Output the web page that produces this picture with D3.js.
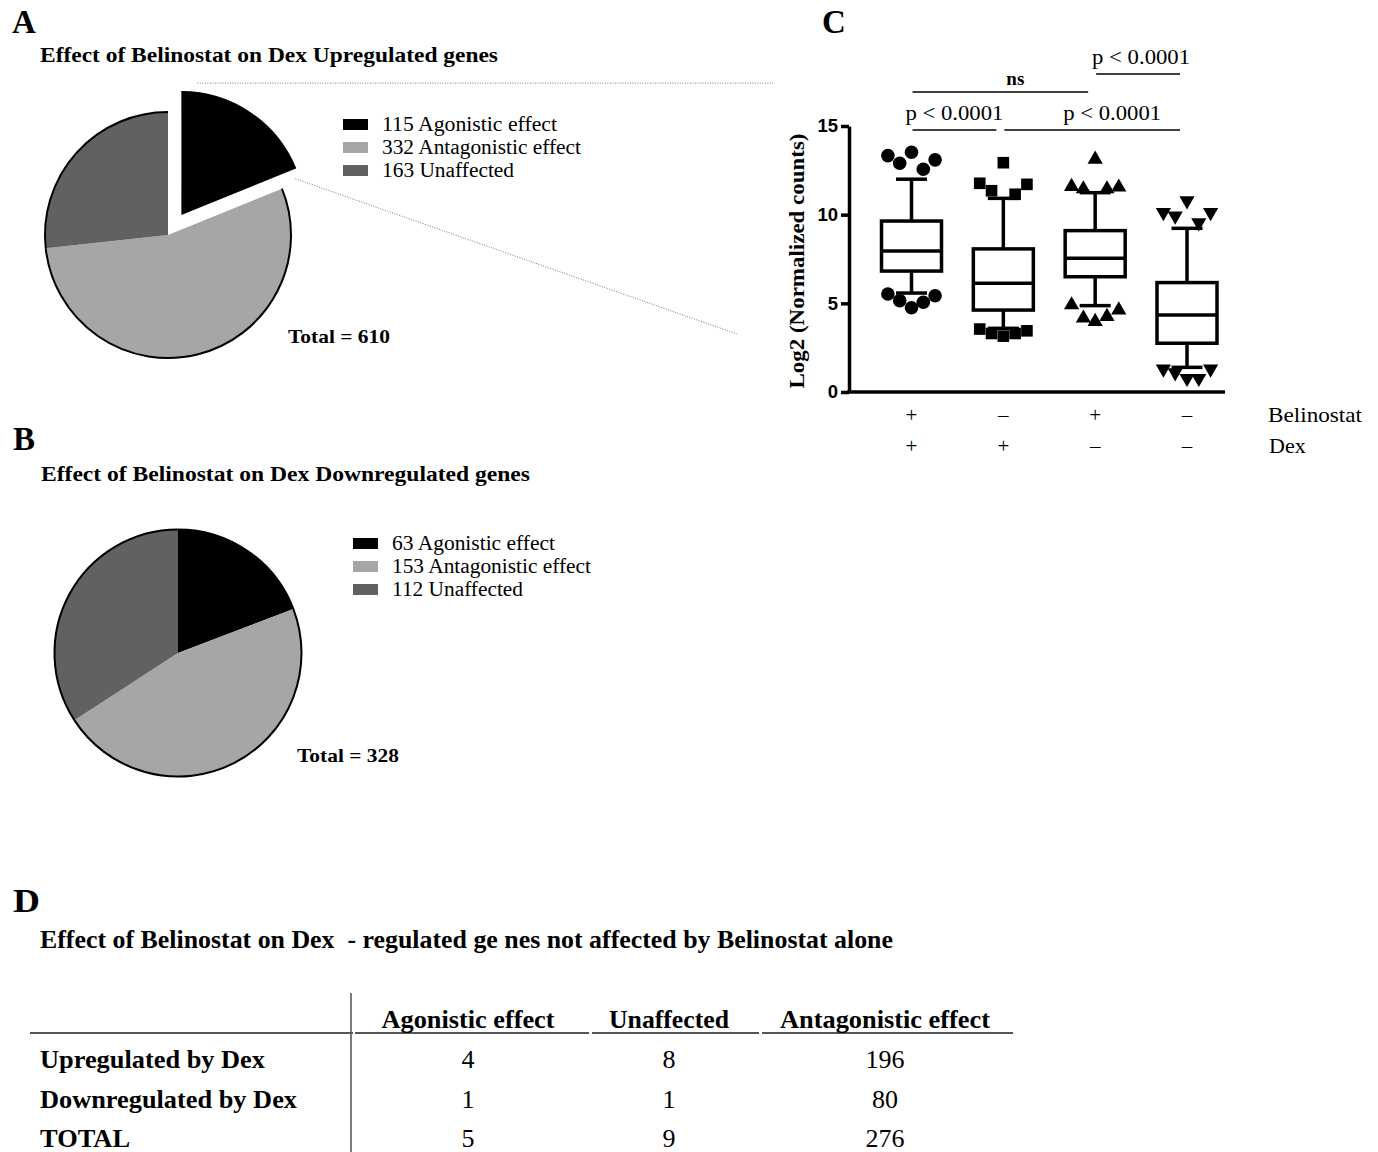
<!DOCTYPE html>
<html><head><meta charset="utf-8">
<script src="https://cdn.jsdelivr.net/npm/d3@7"></script>
<style>body{margin:0;background:#fff} svg{display:block}</style>
</head><body>
<svg id="fig" width="1378" height="1152"></svg>
<script>
// ---------------- DATA ----------------
const pieCategories = ["Agonistic effect", "Antagonistic effect", "Unaffected"];
const pieColors = ["#000000", "#a6a6a9", "#616161"];
const upCounts = [115, 332, 163];
const downCounts = [63, 153, 112];
const upTotal = 610;
const downTotal = 328;

const boxGroups = ["BD", "D", "B", "none"];
const belinostatSigns = ["+", "\u2013", "+", "\u2013"];
const dexSigns = ["+", "+", "\u2013", "\u2013"];
const boxQ1 = [6.82, 4.62, 6.50, 2.75];
const boxMedian = [7.95, 6.13, 7.54, 4.34];
const boxQ3 = [9.64, 8.07, 9.10, 6.17];
const whiskerLow = [5.58, 3.59, 4.87, 1.39];
const whiskerHigh = [12.0, 10.92, 11.24, 9.23];
const outliersHigh = [
  [13.33, 12.90, 13.52, 12.56, 13.09],
  [11.77, 11.35, 12.93, 11.15, 11.71],
  [11.58, 11.45, 13.12, 11.45, 11.55],
  [10.13, 9.93, 10.79, 9.55, 10.13]
];
const outliersLow = [
  [5.53, 5.15, 4.75, 5.06, 5.43],
  [3.55, 3.30, 3.15, 3.30, 3.45],
  [4.91, 4.16, 3.97, 4.25, 4.62],
  [1.30, 1.09, 0.77, 0.77, 1.30]
];
const yTicks = [0, 5, 10, 15];
const comparisons = [
  {a: "BD", b: "D", label: "p < 0.0001"},
  {a: "D", b: "none", label: "p < 0.0001"},
  {a: "BD", b: "B", label: "ns"},
  {a: "B", b: "none", label: "p < 0.0001"}
];

const tableCols = ["Agonistic effect", "Unaffected", "Antagonistic effect"];
const tableRows = ["Upregulated by Dex", "Downregulated by Dex", "TOTAL"];
const agonisticVals = [4, 1, 5];
const unaffectedVals = [8, 1, 9];
const antagonisticVals = [196, 80, 276];

// ---------------- DRAW ----------------
const svg = d3.select("#fig");
const serif = "'Liberation Serif','Times New Roman',serif";
const sans = "'Liberation Sans',Arial,sans-serif";

function txt(t, x, y, o = {}) {
  const e = svg.append("text").attr("x", x).attr("y", y).text(t)
    .attr("font-family", o.family || serif)
    .attr("font-size", o.size || 20)
    .attr("font-weight", o.weight || "normal")
    .attr("text-anchor", o.anchor || "start")
    .attr("fill", o.fill || "#000");
  if (o.len) e.attr("textLength", o.len).attr("lengthAdjust", "spacingAndGlyphs");
  return e;
}

// panel letters
txt("A", 12, 33, {size: 33, weight: "bold"});
txt("B", 13, 450, {size: 33, weight: "bold"});
txt("C", 822, 33, {size: 33, weight: "bold"});
txt("D", 13, 912, {size: 33, weight: "bold", len: 27});

// ---------- pies ----------
function drawPie(counts, cx, cy, r, explodeIdx, explode) {
  const pie = d3.pie().sort(null).value(d => d);
  const arcs = pie(counts);
  const arc = d3.arc().innerRadius(0).outerRadius(r);
  const rim = d3.arc().innerRadius(r).outerRadius(r);
  const res = [];
  arcs.forEach((a, i) => {
    const mid = (a.startAngle + a.endAngle) / 2;
    const off = i === explodeIdx ? explode : 0;
    const dx = Math.sin(mid) * off, dy = -Math.cos(mid) * off;
    const g = svg.append("g").attr("transform", `translate(${cx + dx},${cy + dy})`);
    g.append("path").attr("d", arc(a)).attr("fill", pieColors[i]);
    g.append("path").attr("d", rim(a)).attr("fill", "none").attr("stroke", "#000").attr("stroke-width", 2);
    res.push({a, cx: cx + dx, cy: cy + dy});
  });
  return res;
}
function drawLegend(counts, x, y, lens) {
  counts.forEach((c, i) => {
    svg.append("rect").attr("x", x).attr("y", y + i * 23).attr("width", 25).attr("height", 11).attr("fill", pieColors[i]);
    txt(c + " " + pieCategories[i], x + 39, y + 12 + i * 23, {size: 20, len: lens[i]});
  });
}

// Panel A
txt("Effect of Belinostat on Dex Upregulated genes", 40, 62, {size: 21, weight: "bold", len: 458});
const pa = drawPie(upCounts, 168, 235, 123, 0, 24);
drawLegend(upCounts, 343, 119, [175, 199, 132]);
txt("Total = " + upTotal, 288, 343, {size: 19, weight: "bold", len: 102});

// connector dotted lines from exploded slice to panel C
const ex = pa[0];
const topPt = [ex.cx + 16, ex.cy - 123 - 9];
const endAng = ex.a.endAngle;
const sidePt = [ex.cx + Math.sin(endAng) * 123, ex.cy - Math.cos(endAng) * 123 + 10];
svg.append("line").attr("x1", topPt[0]).attr("y1", topPt[1]).attr("x2", 773).attr("y2", topPt[1])
  .attr("stroke", "#777").attr("stroke-width", 1).attr("stroke-dasharray", "1,1.5");
svg.append("line").attr("x1", sidePt[0]).attr("y1", sidePt[1]).attr("x2", 737).attr("y2", 334)
  .attr("stroke", "#777").attr("stroke-width", 1).attr("stroke-dasharray", "1,1.5");

// Panel B
txt("Effect of Belinostat on Dex Downregulated genes", 41, 481, {size: 21, weight: "bold", len: 489});
drawPie(downCounts, 178, 653, 123.5, -1, 0);
drawLegend(downCounts, 353, 538, [163, 199, 131]);
txt("Total = " + downTotal, 297, 762, {size: 19, weight: "bold", len: 102});

// ---------- Panel C : box plot ----------
const y = d3.scaleLinear().domain([0, 15]).range([392, 126]);
const x = d3.scalePoint().domain(boxGroups).range([911.5, 1187]);
const axisX0 = 849;
const boxHalf = 30, capHalf = 15.5, lw = 3.5;

const yAxis = svg.append("g").attr("transform", `translate(${axisX0},0)`)
  .call(d3.axisLeft(y).tickValues(yTicks).tickSize(8).tickSizeOuter(0).tickPadding(3).tickFormat(d3.format("d")));
yAxis.select(".domain").attr("stroke-width", lw).attr("stroke", "#000");
yAxis.selectAll(".tick line").attr("stroke-width", lw).attr("stroke", "#000");
yAxis.selectAll(".tick text").attr("font-family", sans).attr("font-weight", "bold").attr("font-size", 18.5).attr("fill", "#000");

svg.append("line").attr("x1", axisX0 - lw / 2).attr("x2", x(boxGroups[3]) + 38)
  .attr("y1", y(0)).attr("y2", y(0)).attr("stroke", "#000").attr("stroke-width", lw);

svg.append("text").attr("transform", `translate(804,${(y(0) + y(15)) / 2 + 2}) rotate(-90)`)
  .attr("text-anchor", "middle").attr("font-family", serif).attr("font-weight", "bold")
  .attr("font-size", 20).attr("textLength", 255).attr("lengthAdjust", "spacingAndGlyphs")
  .text("Log2 (Normalized counts)");

const symbols = [
  {type: d3.symbolCircle, size: 145, rot: 0},
  {type: d3.symbolSquare, size: 135, rot: 0},
  {type: d3.symbolTriangle, size: 100, rot: 0},
  {type: d3.symbolTriangle, size: 100, rot: 180}
];

boxGroups.forEach((g, i) => {
  const cx = x(g);
  const G = svg.append("g");
  // whiskers
  G.append("line").attr("x1", cx).attr("x2", cx).attr("y1", y(whiskerHigh[i])).attr("y2", y(boxQ3[i]))
    .attr("stroke", "#000").attr("stroke-width", lw);
  G.append("line").attr("x1", cx).attr("x2", cx).attr("y1", y(boxQ1[i])).attr("y2", y(whiskerLow[i]))
    .attr("stroke", "#000").attr("stroke-width", lw);
  [whiskerHigh[i], whiskerLow[i]].forEach(v => {
    G.append("line").attr("x1", cx - capHalf).attr("x2", cx + capHalf).attr("y1", y(v)).attr("y2", y(v))
      .attr("stroke", "#000").attr("stroke-width", lw);
  });
  // box
  G.append("rect").attr("x", cx - boxHalf).attr("width", boxHalf * 2)
    .attr("y", y(boxQ3[i])).attr("height", y(boxQ1[i]) - y(boxQ3[i]))
    .attr("fill", "#fff").attr("stroke", "#000").attr("stroke-width", lw);
  G.append("line").attr("x1", cx - boxHalf).attr("x2", cx + boxHalf)
    .attr("y1", y(boxMedian[i])).attr("y2", y(boxMedian[i])).attr("stroke", "#000").attr("stroke-width", lw);
  // outliers
  const s = symbols[i];
  const sym = d3.symbol().type(s.type).size(s.size);
  [outliersHigh[i], outliersLow[i]].forEach(arr => {
    arr.forEach((v, k) => {
      const ox = cx + (k - (arr.length - 1) / 2) * 11.8;
      G.append("path").attr("d", sym()).attr("fill", "#000")
        .attr("transform", `translate(${ox},${y(v)}) rotate(${s.rot})`);
    });
  });
  // treatment signs
  txt(belinostatSigns[i], cx, 422, {size: 21, anchor: "middle"});
  txt(dexSigns[i], cx, 453, {size: 21, anchor: "middle"});
});
txt("Belinostat", 1268, 422, {size: 22, len: 94});
txt("Dex", 1269, 453, {size: 22});

// significance brackets
const brY = [130, 130, 92, 74];
const lblShift = [0, 20, 15, 3];
comparisons.forEach((c, i) => {
  const x1 = x(c.a) + 1, x2 = x(c.b) - 7;
  svg.append("line").attr("x1", x1).attr("x2", x2).attr("y1", brY[i]).attr("y2", brY[i])
    .attr("stroke", "#000").attr("stroke-width", 1.5);
  const bold = c.label === "ns";
  txt(c.label, (x1 + x2) / 2 + lblShift[i], brY[i] - (bold ? 7 : 10),
      bold ? {size: 19, weight: "bold", anchor: "middle"} : {size: 22, anchor: "middle", len: 98});
});

// ---------- Panel D : table ----------
txt("Effect of Belinostat on Dex  - regulated ge nes not affected by Belinostat alone", 40, 948,
    {size: 25, weight: "bold", len: 853}).attr("xml:space", "preserve").style("white-space", "pre");

const colCenters = [468, 669, 885];
const headerLens = [173, 120, 210];
const rowLens = [225, 257, 90];
const rowY = d3.scalePoint().domain(tableRows).range([1068, 1147]);

svg.append("line").attr("x1", 351).attr("x2", 351).attr("y1", 993).attr("y2", 1152)
  .attr("stroke", "#333").attr("stroke-width", 1.3);
[[30, 353], [355, 589], [592, 759], [762, 1013]].forEach(s => {
  svg.append("line").attr("x1", s[0]).attr("x2", s[1]).attr("y1", 1033).attr("y2", 1033)
    .attr("stroke", "#555").attr("stroke-width", 2);
});
tableCols.forEach((c, j) => {
  txt(c, colCenters[j], 1028, {size: 26, weight: "bold", anchor: "middle", len: headerLens[j]});
});
const colVals = [agonisticVals, unaffectedVals, antagonisticVals];
tableRows.forEach((r, i) => {
  txt(r, 40, rowY(r), {size: 26, weight: "bold", len: rowLens[i]});
  colVals.forEach((vals, j) => {
    txt(String(vals[i]), colCenters[j], rowY(r), {size: 26, anchor: "middle"});
  });
});
</script>
</body></html>
